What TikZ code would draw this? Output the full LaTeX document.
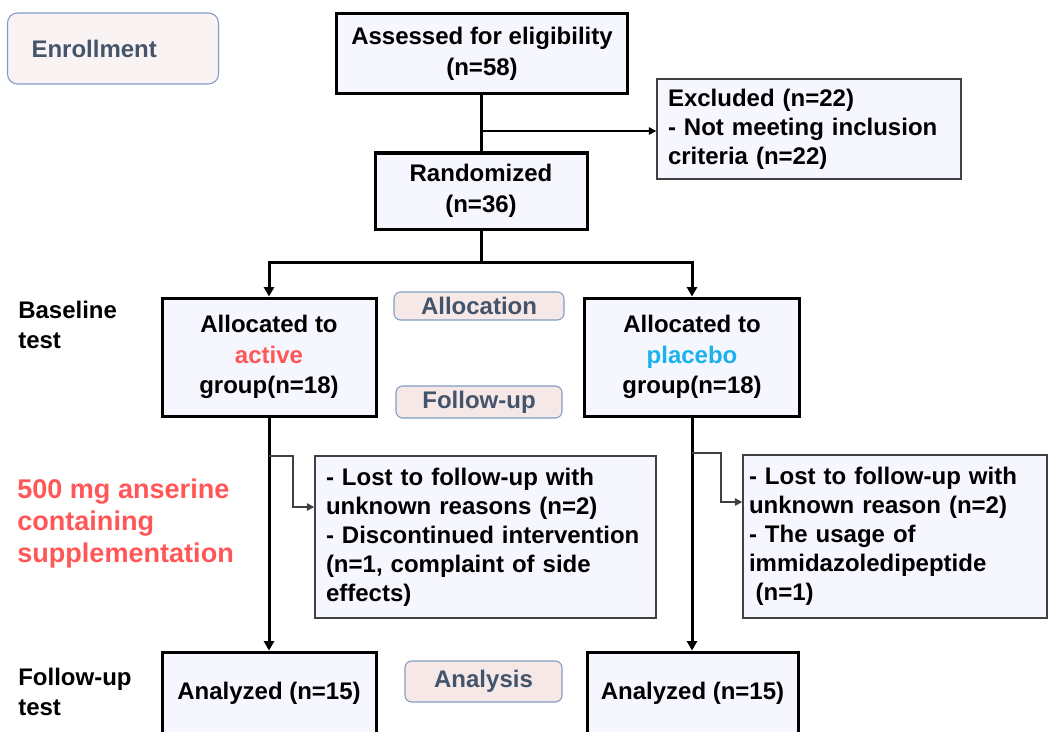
\documentclass[tikz,border=0pt]{standalone}
\usepackage{fontspec}
\setmainfont{Liberation Sans}
\usetikzlibrary{arrows.meta,calc}
\definecolor{boxfill}{HTML}{F5F6FE}
\definecolor{lblfill}{HTML}{F7E8E8}
\definecolor{enrfill}{HTML}{F9F3F3}
\definecolor{lbldraw}{HTML}{7F9DC0}
\definecolor{lbltext}{HTML}{44546A}
\definecolor{redtxt}{HTML}{FF5757}
\definecolor{bluetxt}{HTML}{1AB2EE}
\definecolor{sidedraw}{HTML}{404040}
\tikzset{
  mainbox/.style={draw=black, line width=2.25pt, fill=boxfill, align=center,
    font=\fontsize{18}{23}\selectfont\bfseries, inner sep=0pt},
  sidebox/.style={draw=sidedraw, line width=1.1pt, fill=boxfill, align=left,
    font=\fontsize{18}{21.75}\selectfont\bfseries, inner ysep=0pt},
  lblbox/.style={draw=lbldraw, line width=0.8pt, fill=lblfill, rounded corners=5pt,
    text=lbltext, font=\fontsize{18}{22}\selectfont\bfseries, inner sep=0pt},
  sidelabel/.style={anchor=north west, align=left, inner sep=0pt,
    font=\fontsize{18}{22.5}\selectfont\bfseries},
  thickline/.style={line width=2.25pt, draw=black},
  thickarrow/.style={line width=2.25pt, draw=black, -{Triangle[length=7pt,width=7.5pt]}},
  thinarrow/.style={line width=1.1pt, draw=sidedraw, -{Triangle[length=5.5pt,width=5.5pt]}},
}
\begin{document}
\begin{tikzpicture}[x=0.75pt,y=-0.75pt]
\useasboundingbox (0,0) rectangle (1048,731);
\clip (0,0) rectangle (1048,731);

% Enrollment label
\node[draw=lbldraw, line width=0.8pt, fill=enrfill, rounded corners=7.5pt,
  text=lbltext, font=\fontsize{18}{22}\selectfont\bfseries, align=left,
  minimum width=158.25pt, minimum height=53.25pt, text width=122.25pt, inner xsep=18pt]
  (enroll) at (113,48.5) {Enrollment};

% main boxes
\node[mainbox, minimum width=218.25pt, minimum height=60pt] (assess) at (482,54)
  {Assessed for eligibility\\(n=58)};
\node[mainbox, minimum width=159pt, minimum height=57pt] (rand) at (481,191)
  {Randomized\\(n=36)};
\node[sidebox, minimum width=228pt, minimum height=75pt, text width=211.5pt, inner xsep=8.25pt]
  (excl) at (809,129)
  {Excluded (n=22)\\- Not meeting inclusion\\criteria (n=22)};

\node[mainbox, minimum width=160.5pt, minimum height=88.5pt] (act) at (269,357)
  {Allocated to\\{\color{redtxt}active}\\group(n=18)};
\node[mainbox, minimum width=161.25pt, minimum height=88.5pt] (plc) at (692,357)
  {Allocated to\\{\color{bluetxt}placebo}\\group(n=18)};

\node[sidebox, minimum width=255.75pt, minimum height=121.5pt, text width=239.25pt, inner xsep=8.25pt]
  (fu1) at (485.5,537)
  {- Lost to follow-up with\\unknown reasons (n=2)\\- Discontinued intervention\\(n=1, complaint of side\\effects)};
\node[sidebox, minimum width=228pt, minimum height=122.25pt, text width=219pt, inner xsep=4.5pt]
  (fu2) at (895,536.5)
  {- Lost to follow-up with\\unknown reason (n=2)\\- The usage of\\immidazoledipeptide\\\hspace*{5pt}(n=1)};

\node[mainbox, minimum width=160.5pt, minimum height=61.5pt] (an1) at (269,693)
  {Analyzed (n=15)};
\node[mainbox, minimum width=158.25pt, minimum height=61.5pt] (an2) at (692.5,693)
  {Analyzed (n=15)};

% stage labels
\node[lblbox, minimum width=127.5pt, minimum height=21pt] (alloc) at (479,306) {Allocation};
\node[lblbox, minimum width=124.5pt, minimum height=24pt] (fup) at (479,402) {Follow-up};
\node[lblbox, minimum width=117.75pt, minimum height=30.75pt] (anal) at (483.5,681.5) {Analysis};

% side labels
\node[sidelabel] (base) at (18,300.5) {Baseline\\test};
\node[sidelabel, text=redtxt, font=\fontsize{20.3}{24}\selectfont\bfseries] (supp) at (17,478.5)
  {500 mg anserine\\containing\\supplementation};
\node[sidelabel] (fut) at (18,667.5) {Follow-up\\test};

% connectors
\draw[thickline] (rand.north |- assess.south) -- (rand.north);
\coordinate (b1) at (481,131);
\draw[thinarrow, draw=black] (b1) -- (b1 -| excl.west);
\coordinate (j) at (481,262);
\draw[thickline] (rand.south) -- (j);
\draw[thickarrow] (j) -| (act.north);
\draw[thickarrow] (j) -| (plc.north);
\draw[thickarrow] (act.south) -- (an1.north);
\draw[thickarrow] (plc.south) -- (plc.south |- an2.north);

\coordinate (c1) at (269,456);
\coordinate (c2) at (293,507);
\draw[thinarrow] (c1) -| (c2) -- (c2 -| fu1.west);
\coordinate (c3) at (692,453);
\coordinate (c4) at (721,502);
\draw[thinarrow] (c3) -| (c4) -- (c4 -| fu2.west);
\end{tikzpicture}
\end{document}
